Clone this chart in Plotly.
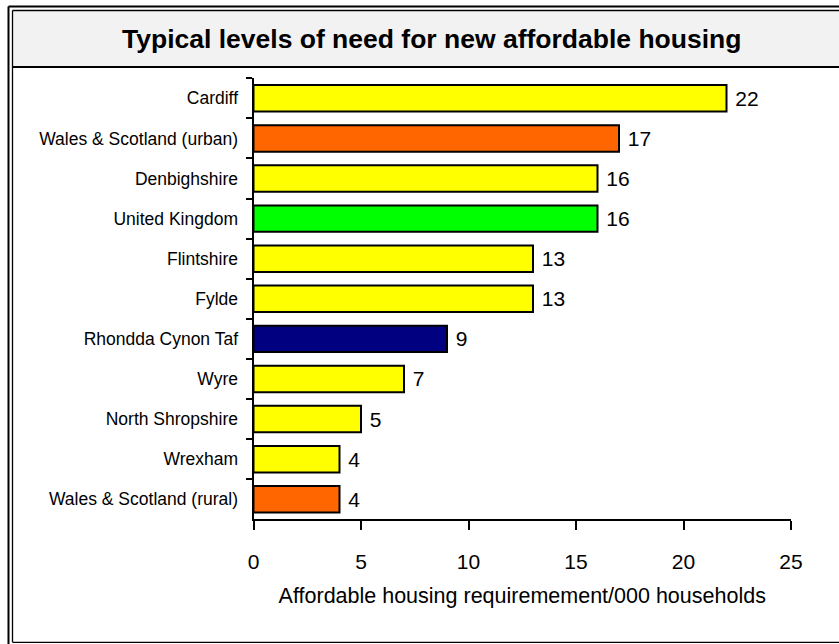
import plotly.graph_objects as go

# Affordable housing need per thousand households
areas = [
    "Cardiff",
    "Wales & Scotland (urban)",
    "Denbighshire",
    "United Kingdom",
    "Flintshire",
    "Fylde",
    "Rhondda Cynon Taf",
    "Wyre",
    "North Shropshire",
    "Wrexham",
    "Wales & Scotland (rural)",
]
need = [22, 17, 16, 16, 13, 13, 9, 7, 5, 4, 4]
bar_colours = [
    "#FFFF00", "#FF6600", "#FFFF00", "#00FF00", "#FFFF00", "#FFFF00",
    "#000080", "#FFFF00", "#FFFF00", "#FFFF00", "#FF6600",
]
x_ticks = [0, 5, 10, 15, 20, 25]

W, H = 839, 644
FONT = "Liberation Sans, Arial, Helvetica, sans-serif"


def px(x):
    return x / W


def py(y):
    return 1 - y / H


fig = go.Figure(
    go.Bar(
        y=areas,
        x=need,
        orientation="h",
        width=0.66,
        marker=dict(color=bar_colours, line=dict(color="black", width=2)),
        texttemplate=" %{x}",
        textposition="outside",
        textfont=dict(family=FONT, size=21, color="black"),
        cliponaxis=False,
        hoverinfo="skip",
    )
)

# Frame: double rule on the left/top, title band with grey fill
shapes = [
    dict(type="rect", xref="paper", yref="paper",
         x0=px(12.5), x1=1, y0=py(67), y1=py(10.5),
         fillcolor="#F2F2F2", line=dict(width=0), layer="below"),
    # outer rule
    dict(type="line", xref="paper", yref="paper",
         x0=px(8.5), x1=px(8.5), y0=py(6.5), y1=0,
         line=dict(color="black", width=2)),
    dict(type="line", xref="paper", yref="paper",
         x0=px(8.5), x1=1, y0=py(6.5), y1=py(6.5),
         line=dict(color="black", width=2)),
    # inner rule
    dict(type="line", xref="paper", yref="paper",
         x0=px(12.5), x1=px(12.5), y0=py(10.5), y1=py(642.3),
         line=dict(color="black", width=1.3)),
    dict(type="line", xref="paper", yref="paper",
         x0=px(12.5), x1=1, y0=py(10.5), y1=py(10.5),
         line=dict(color="black", width=1.3)),
    dict(type="line", xref="paper", yref="paper",
         x0=px(12.5), x1=1, y0=py(642.3), y1=py(642.3),
         line=dict(color="black", width=1.3)),
    # title band bottom rule
    dict(type="line", xref="paper", yref="paper",
         x0=px(12.5), x1=1, y0=py(67), y1=py(67),
         line=dict(color="black", width=2.2)),
]

fig.update_layout(
    width=W,
    height=H,
    autosize=False,
    margin=dict(l=0, r=0, t=0, b=0, pad=0, autoexpand=False),
    paper_bgcolor="white",
    plot_bgcolor="white",
    showlegend=False,
    shapes=shapes,
    annotations=[
        dict(text="<b>Typical levels of need for new affordable housing</b>",
             xref="paper", yref="paper", x=px(431), y=py(38.5),
             xanchor="center", yanchor="middle", showarrow=False,
             font=dict(family=FONT, size=26.5, color="black")),
    ],
    xaxis=dict(
        domain=[px(253.5), px(791)],
        range=[0, 25],
        automargin=False,
        tickvals=x_ticks,
        ticktext=[str(t) for t in x_ticks],
        ticks="outside",
        ticklen=9,
        tickwidth=2,
        tickcolor="black",
        showline=True,
        linecolor="black",
        linewidth=2,
        showgrid=False,
        zeroline=False,
        tickfont=dict(family=FONT, size=21, color="black"),
        ticklabelstandoff=13,
        title=dict(text="Affordable housing requiremement/000 households",
                   font=dict(family=FONT, size=21.5, color="black"),
                   standoff=16),
        anchor="y",
    ),
    yaxis=dict(
        domain=[py(519.3), py(78.3)],
        categoryorder="array",
        categoryarray=areas,
        range=[10.5, -0.5],
        automargin=False,
        ticks="outside",
        tickson="boundaries",
        ticklen=6,
        tickwidth=2,
        tickcolor="black",
        showline=True,
        linecolor="black",
        linewidth=2,
        showgrid=False,
        zeroline=False,
        tickfont=dict(family=FONT, size=17.5, color="black"),
        ticklabelstandoff=10,
        anchor="x",
    ),
)

fig.write_html("out.html")
